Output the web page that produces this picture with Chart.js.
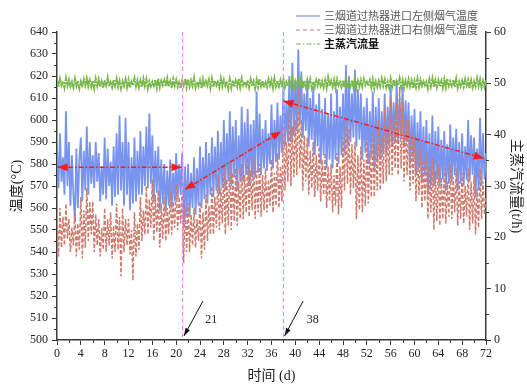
<!DOCTYPE html>
<html><head><meta charset="utf-8">
<script src="https://cdn.jsdelivr.net/npm/chart.js@4.4.0/dist/chart.umd.min.js"></script>
<style>html,body{margin:0;padding:0;background:#fff}#wrap{width:527px;height:385px}</style>
</head><body><div id="wrap"><canvas id="c" width="527" height="385"></canvas></div>
<script>
// ---------------- DATA ----------------
const SERIES_NAMES = ['三烟道过热器进口左侧烟气温度', '三烟道过热器进口右侧烟气温度', '主蒸汽流量'];
const X_TITLE = '时间 (d)';
const Y_TITLE = '温度(°C)';
const Y1_TITLE = '主蒸汽流量(t/h)';
const SAMPLE_STEP_DAYS = 0.25;

// left-side flue gas temperature (°C), 4 samples/day
const leftTemp = [
588,569,594,572, 583,566,604,570, 590,561,584,566, 554,587,560,582,
592,563,586,568, 597,566,590,571, 584,569,590,572, 585,563,579,566,
592,564,587,570, 581,561,588,565, 594,566,602,568, 590,561,601,566,
590,559,583,562, 592,563,586,566, 595,566,588,570, 597,569,603,571,
593,563,586,567, 588,559,582,562, 580,558,577,561, 582,560,576,563,
585,564,580,566, 585,551,579,556, 580,556,576,560, 583,557,578,561,
588,560,583,564, 590,562,585,566, 592,565,588,568, 595,566,590,569,
600,568,594,572, 604,570,597,574, 600,568,593,572, 606,572,599,575,
605,570,598,574, 600,574,613,576, 603,575,596,578, 600,577,594,580,
607,578,600,581, 608,582,602,585, 615,588,608,590, 620,590,626,593,
618,595,632,598, 622,592,612,595, 618,588,610,591, 615,584,607,588,
612,580,605,584, 610,578,603,582, 612,578,604,582, 614,580,606,584,
612,585,625,588, 620,590,612,592, 623,588,614,591, 612,582,606,585,
610,580,604,583, 613,578,606,582, 610,582,604,585, 612,585,606,588,
616,588,608,590, 618,590,610,592, 616,588,609,590, 608,580,602,583,
605,575,599,578, 604,572,597,575, 600,566,594,570, 602,570,595,573,
597,570,591,573, 595,568,589,571, 598,572,592,575, 596,568,590,571,
594,570,588,573, 600,572,593,575, 592,565,587,568, 601,570,594,573,
585];

// right-side flue gas temperature (°C), 4 samples/day
const rightTemp = [
555,538,560,542, 556,543,562,546, 555,540,551,543, 558,538,553,541,
565,537,559,542, 569,545,563,548, 563,540,557,543, 555,538,551,541,
560,540,555,543, 558,537,552,540, 562,541,556,529, 560,540,555,543,
555,539,550,527, 558,538,553,541, 565,545,559,548, 570,548,564,551,
573,545,566,549, 568,542,562,546, 565,545,560,548, 568,548,563,551,
571,550,565,553, 567,535,561,540, 562,540,557,543, 560,542,555,545,
563,537,558,541, 566,545,561,548, 570,548,565,551, 575,550,569,553,
580,548,573,552, 582,550,576,554, 578,552,572,555, 580,555,575,558,
583,556,577,559, 583,555,577,558, 580,556,575,559, 578,558,573,561,
582,558,576,561, 585,560,579,563, 598,568,590,572, 605,570,597,574,
600,575,614,578, 600,568,593,572, 592,566,586,569, 590,565,584,568,
588,563,582,566, 585,560,579,563, 580,558,575,561, 585,557,579,560,
592,568,600,571, 596,566,589,569, 590,555,584,559, 588,558,582,561,
592,562,586,565, 595,565,589,568, 600,568,593,571, 605,572,598,575,
610,575,603,578, 608,575,615,578, 608,572,601,575, 600,568,594,571,
592,563,586,566, 588,560,582,563, 585,555,579,558, 583,550,577,554,
580,552,574,555, 578,553,572,556, 580,555,574,558, 578,552,572,555,
576,553,570,556, 578,550,572,553, 575,548,569,551, 578,555,572,557,
565];

// main steam flow (t/h), 4 samples/day
const steamFlow = [
50.6,49.3,50.9,49.6, 50.4,49.1,51.0,49.5, 50.7,49.4,50.3,49.2, 50.9,49.5,50.5,49.0,
50.3,49.2,50.8,49.6, 51.0,49.4,50.6,49.3, 50.5,49.0,50.9,49.5, 50.8,49.3,50.4,49.1,
50.6,49.6,51.1,49.4, 50.2,49.2,50.7,49.5, 50.9,49.3,50.5,49.0, 50.4,49.5,50.8,49.2,
50.7,49.1,50.3,49.6, 51.0,49.4,50.6,49.2, 50.5,49.3,50.9,49.5, 50.8,49.0,50.4,49.4,
50.3,49.5,50.7,49.1, 50.9,49.2,50.5,49.6, 50.6,49.4,51.0,49.3, 50.4,49.1,50.8,49.5,
50.7,49.3,50.2,49.0, 50.5,49.6,50.9,49.2, 50.8,49.4,50.6,49.5, 51.1,49.2,50.3,49.4,
50.6,49.0,50.8,49.3, 50.4,49.5,50.7,49.1, 50.9,49.3,50.5,49.6, 50.3,49.2,51.0,49.4,
50.7,49.5,50.4,49.0, 50.8,49.1,50.6,49.3, 50.5,49.4,50.9,49.2, 51.0,49.6,50.3,49.5,
50.6,49.2,50.8,49.4, 50.4,49.0,50.7,49.3, 50.9,49.5,50.5,49.1, 50.2,49.3,50.8,49.6,
50.7,49.1,51.0,49.4, 50.5,49.4,50.6,49.2, 50.8,49.2,50.3,49.5, 50.6,49.5,50.9,49.0,
50.4,49.3,50.7,49.6, 51.0,49.0,50.5,49.3, 50.7,49.4,50.8,49.1, 50.3,49.2,50.6,49.5,
50.9,49.5,50.4,49.2, 50.6,49.1,51.1,49.4, 50.5,49.3,50.7,49.0, 50.8,49.6,50.3,49.3,
50.6,49.2,50.9,49.5, 50.4,49.4,50.6,49.1, 51.0,49.1,50.5,49.4, 50.7,49.3,50.8,49.6,
50.3,49.5,50.6,49.2, 50.8,49.0,50.4,49.3, 50.5,49.4,50.9,49.5, 50.7,49.2,50.3,49.1,
50.9,49.3,50.7,49.4, 50.4,49.6,51.0,49.2, 50.6,49.1,50.5,49.5, 50.8,49.4,50.6,49.0,
50.5,49.2,50.9,49.3, 50.7,49.5,50.4,49.6, 50.3,49.0,50.8,49.4, 51.0,49.3,50.6,49.2,
50.6,49.4,50.5,49.1, 50.8,49.2,50.9,49.5, 50.4,49.5,50.7,49.3, 50.9,49.1,50.3,49.4,
50.5,49.3,50.8,49.6, 50.7,49.0,50.6,49.2, 50.4,49.4,51.0,49.5, 50.8,49.2,50.5,49.3,
50.6];

// annotations (data coordinates: day, °C)
const markDays = [21, 38];
const redArrowFrom = [[0.1, 578.5], [21.5, 568.5], [38.0, 608.6]];
const redArrowTo   = [[20.9, 578.5], [37.6, 594.8], [71.6, 582.6]];
const blackArrowFrom = [[24.5, 517.7], [41.3, 517.7]];
const blackArrowTo   = [[21.3, 501.8], [38.2, 501.8]];
const blackArrowLabels = ['21', '38'];
const blackArrowLabelPos = [[24.9, 509.3], [41.9, 509.3]];

// ---------------- CHART ----------------
const days = leftTemp.map((_, i) => i * SAMPLE_STEP_DAYS);
const pts = arr => arr.map((v, i) => ({x: days[i], y: v}));

const SERIF = "'Liberation Serif', 'Noto Sans CJK SC', serif";
const TITLE_FONT = "'Liberation Serif', 'Noto Sans CJK SC', sans-serif";
const AXIS_COLOR = '#3a3a3a';
const C_BLUE = '#7894ef', C_RED = '#cd7b6c', C_GREEN = '#79b84b';

function head(ctx, tx, ty, fx, fy, len, wid, color) {
  const a = Math.atan2(ty - fy, tx - fx);
  ctx.save();
  ctx.translate(tx, ty); ctx.rotate(a);
  ctx.beginPath();
  ctx.moveTo(0, 0); ctx.lineTo(-len, -wid / 2); ctx.lineTo(-len, wid / 2); ctx.closePath();
  ctx.fillStyle = color; ctx.fill();
  ctx.restore();
}

const annotations = {
  id: 'annotations',
  afterDatasetsDraw(chart) {
    const {ctx, chartArea: ca, scales: {x, y}} = chart;
    ctx.save();
    ctx.strokeStyle = '#ff80ff'; ctx.lineWidth = 1.2; ctx.setLineDash([4, 3]);
    markDays.forEach(d => {
      const px = Math.round(x.getPixelForValue(d)) + 0.5;
      ctx.beginPath(); ctx.moveTo(px, ca.top); ctx.lineTo(px, ca.bottom); ctx.stroke();
    });
    ctx.strokeStyle = '#ff1a1a'; ctx.lineWidth = 1.5; ctx.setLineDash([5, 2, 1.5, 2]);
    redArrowFrom.forEach((f, i) => {
      const t = redArrowTo[i];
      const x1 = x.getPixelForValue(f[0]), y1 = y.getPixelForValue(f[1]);
      const x2 = x.getPixelForValue(t[0]), y2 = y.getPixelForValue(t[1]);
      ctx.beginPath(); ctx.moveTo(x1, y1); ctx.lineTo(x2, y2); ctx.stroke();
      head(ctx, x1, y1, x2, y2, 10, 8, '#ff1a1a');
      head(ctx, x2, y2, x1, y1, 10, 8, '#ff1a1a');
    });
    ctx.setLineDash([]); ctx.strokeStyle = '#111'; ctx.lineWidth = 1;
    blackArrowFrom.forEach((f, i) => {
      const t = blackArrowTo[i];
      const x1 = x.getPixelForValue(f[0]), y1 = y.getPixelForValue(f[1]);
      const x2 = x.getPixelForValue(t[0]), y2 = y.getPixelForValue(t[1]);
      ctx.beginPath(); ctx.moveTo(x1, y1); ctx.lineTo(x2, y2); ctx.stroke();
      head(ctx, x2, y2, x1, y1, 8, 5, '#111');
    });
    ctx.fillStyle = '#222'; ctx.font = "12px " + SERIF; ctx.textBaseline = 'middle'; ctx.textAlign = 'left';
    blackArrowLabels.forEach((s, i) => {
      const p = blackArrowLabelPos[i];
      ctx.fillText(s, x.getPixelForValue(p[0]), y.getPixelForValue(p[1]));
    });
    ctx.restore();
  }
};

const minorTicks = {
  id: 'minorTicks',
  afterDraw(chart) {
    const {ctx, scales: {x, y, y1}} = chart;
    ctx.save();
    ctx.strokeStyle = AXIS_COLOR; ctx.lineWidth = 1;
    ctx.beginPath();
    for (let v = 2; v < 72; v += 4) { const px = Math.round(x.getPixelForValue(v)) + 0.5; ctx.moveTo(px, x.top); ctx.lineTo(px, x.top + 3); }
    for (let v = 505; v < 640; v += 10) { const py = Math.round(y.getPixelForValue(v)) + 0.5; ctx.moveTo(y.right, py); ctx.lineTo(y.right - 3, py); }
    for (let v = 5; v < 60; v += 10) { const py = Math.round(y1.getPixelForValue(v)) + 0.5; ctx.moveTo(y1.left, py); ctx.lineTo(y1.left + 3, py); }
    ctx.stroke();
    ctx.restore();
  }
};

const legendPlugin = {
  id: 'customLegend',
  afterDraw(chart) {
    const {ctx} = chart;
    const rows = [
      {c: C_BLUE, dash: [], bold: false, col: '#555'},
      {c: C_RED, dash: [4, 3], bold: false, col: '#555'},
      {c: C_GREEN, dash: [5, 2, 1.5, 2], bold: true, col: '#111'}
    ];
    ctx.save();
    rows.forEach((r, i) => {
      const yy = 16 + i * 14;
      ctx.strokeStyle = r.c; ctx.lineWidth = 1.2; ctx.setLineDash(r.dash);
      ctx.beginPath(); ctx.moveTo(296, yy); ctx.lineTo(320, yy); ctx.stroke();
      ctx.fillStyle = r.col;
      ctx.font = (r.bold ? 'bold ' : '') + "11px 'Noto Sans CJK SC', sans-serif";
      ctx.textBaseline = 'middle'; ctx.textAlign = 'left';
      ctx.fillText(SERIES_NAMES[i], 324, yy);
    });
    ctx.restore();
  }
};

const tickFont = {family: SERIF, size: 12};
new Chart(document.getElementById('c'), {
  type: 'line',
  data: {
    datasets: [
      {label: SERIES_NAMES[0], data: pts(leftTemp), yAxisID: 'y', borderColor: C_BLUE, borderWidth: 1.8, pointRadius: 0, order: 3},
      {label: SERIES_NAMES[1], data: pts(rightTemp), yAxisID: 'y', borderColor: C_RED, borderWidth: 1.5, borderDash: [4, 2], pointRadius: 0, order: 2},
      {label: SERIES_NAMES[2], data: pts(steamFlow), yAxisID: 'y1', borderColor: C_GREEN, borderWidth: 2, borderDash: [6, 1, 2, 1], pointRadius: 0, order: 1}
    ]
  },
  options: {
    responsive: false, animation: false, devicePixelRatio: 1,
    layout: {padding: {top: 32, left: 0, right: 0, bottom: 0}},
    plugins: {legend: {display: false}, tooltip: {enabled: false}},
    elements: {line: {tension: 0}},
    scales: {
      x: {
        type: 'linear', min: 0, max: 72,
        afterFit: s => { s.height = 45; },
        ticks: {stepSize: 4, font: tickFont, color: '#222', padding: 2, maxRotation: 0},
        grid: {drawOnChartArea: false, drawTicks: true, tickLength: 5, color: AXIS_COLOR},
        border: {display: true, color: AXIS_COLOR, width: 1.5},
        title: {display: true, text: X_TITLE, font: {family: TITLE_FONT, size: 14}, color: '#222', padding: {top: 0, bottom: 0}}
      },
      y: {
        type: 'linear', position: 'left', min: 500, max: 640,
        afterFit: s => { s.width = 57; },
        ticks: {stepSize: 10, font: tickFont, color: '#222', padding: 4},
        grid: {drawOnChartArea: false, drawTicks: true, tickLength: 5, color: AXIS_COLOR},
        border: {display: true, color: AXIS_COLOR, width: 1.5},
        title: {display: true, text: Y_TITLE, font: {family: TITLE_FONT, size: 14}, color: '#222', padding: {top: 9, bottom: 0}}
      },
      y1: {
        type: 'linear', position: 'right', min: 0, max: 60,
        afterFit: s => { s.width = 41; },
        ticks: {stepSize: 10, font: tickFont, color: '#222', padding: 3},
        grid: {drawOnChartArea: false, drawTicks: true, tickLength: 5, color: AXIS_COLOR},
        border: {display: true, color: AXIS_COLOR, width: 1.5},
        title: {display: true, text: Y1_TITLE, font: {family: TITLE_FONT, size: 14}, color: '#222', padding: {top: 3, bottom: 0}}
      }
    }
  },
  plugins: [annotations, minorTicks, legendPlugin]
});
</script></body></html>
